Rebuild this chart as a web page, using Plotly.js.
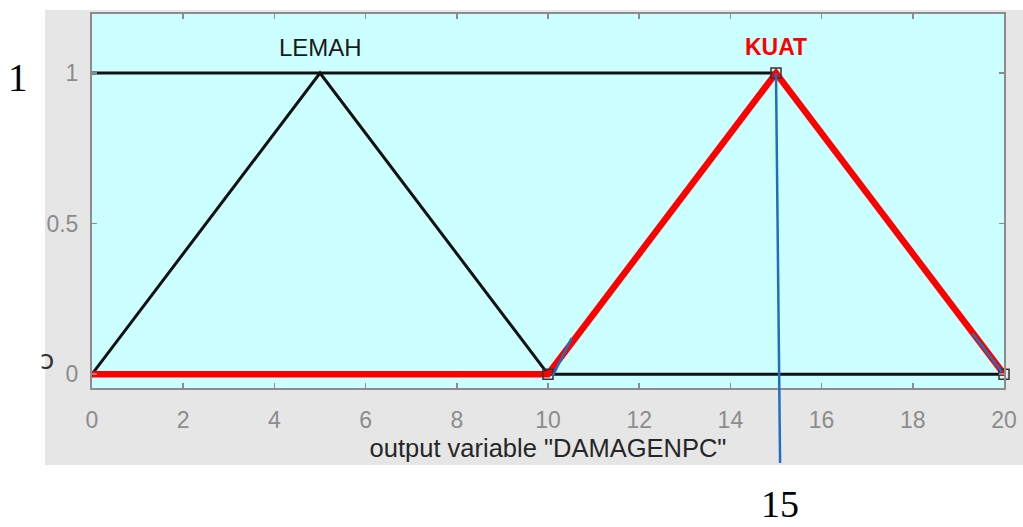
<!DOCTYPE html>
<html>
<head>
<meta charset="utf-8">
<script src="https://cdn.plot.ly/plotly-3.0.1.min.js"></script>
<style>
  html, body { margin: 0; padding: 0; background: #ffffff; }
  #chart { width: 1023px; height: 527px; }
</style>
</head>
<body>
<div id="chart"></div>
<script>
// Membership functions of output variable "DAMAGENPC"
const lemahX = [0, 5, 10];
const lemahY = [0, 1, 0];
const baseX = [10, 20];
const baseY = [0, 0];
const topX = [0, 15];
const topY = [1, 1];
const kuatX = [0, 10, 15, 20];
const kuatY = [0, 0, 1, 0];
const vertexX = [10, 15, 20];
const vertexY = [0, 1, 0];

// Crisp output and the short slope marks near the KUAT feet
const crispValue = 15;
const crispLevel = 1;
const crispTail = [15.09, -0.302];
const slopeMarkA = { x: [10.10, 10.52], y: [-0.007, 0.12] };
const slopeMarkB = { x: [19.31, 19.95], y: [0.135, 0.008] };

// Labels
const mfNames = ['LEMAH', 'KUAT'];
const mfPeaks = [5, 15];
const labelLevel = 1.086;
const xTicks = [0, 2, 4, 6, 8, 10, 12, 14, 16, 18, 20];
const yTicks = [0, 0.5, 1];
const yTickText = ['0', '0.5', '1'];

const gray = '#8c8c8c';
const blue = '#1f6fc0';
const sans = 'Liberation Sans, Arial, Helvetica, sans-serif';
const serif = 'Liberation Serif, DejaVu Serif, serif';

const traces = [
  { x: topX, y: topY, mode: 'lines', line: { color: '#111111', width: 3 }, hoverinfo: 'skip' },
  { x: lemahX, y: lemahY, mode: 'lines', line: { color: '#111111', width: 3 }, hoverinfo: 'skip' },
  { x: baseX, y: baseY, mode: 'lines', line: { color: '#111111', width: 3 }, hoverinfo: 'skip' },
  { x: kuatX, y: kuatY, mode: 'lines', line: { color: '#ff0000', width: 6.5 }, hoverinfo: 'skip' },
  { x: vertexX, y: vertexY, mode: 'markers', cliponaxis: false,
    marker: { symbol: 'square-open', size: 10, color: '#333333', line: { width: 1.5, color: '#333333' } },
    hoverinfo: 'skip' },
  { x: slopeMarkA.x, y: slopeMarkA.y, mode: 'lines', line: { color: blue, width: 2.5 }, hoverinfo: 'skip' },
  { x: slopeMarkB.x, y: slopeMarkB.y, mode: 'lines', line: { color: blue, width: 2.5 }, hoverinfo: 'skip' }
];

const axisCommon = {
  showgrid: false,
  zeroline: false,
  showline: true,
  linecolor: gray,
  linewidth: 2,
  mirror: 'ticks',
  ticks: 'inside',
  ticklen: 5,
  tickwidth: 1.5,
  tickcolor: gray,
  tickfont: { family: sans, size: 23, color: gray }
};

const layout = {
  width: 1023,
  height: 527,
  margin: { l: 92, r: 19, t: 14, b: 139 },
  paper_bgcolor: '#e6e6e6',
  plot_bgcolor: '#ccffff',
  showlegend: false,
  xaxis: Object.assign({}, axisCommon, {
    range: [0, 20],
    tickvals: xTicks,
    ticklabelstandoff: 10,
    title: { text: 'output variable "DAMAGENPC"', font: { family: sans, size: 25.5, color: '#262626' }, standoff: 8 }
  }),
  yaxis: Object.assign({}, axisCommon, {
    range: [-0.046, 1.196],
    tickvals: yTicks,
    ticktext: yTickText,
    ticklabelstandoff: 7
  }),
  // white margins around the grey figure panel
  shapes: [
    { type: 'rect', xref: 'paper', yref: 'paper', x0: -0.2, x1: -0.0515, y0: -0.5, y1: 1.2,
      fillcolor: '#ffffff', line: { width: 0 }, layer: 'above' },
    { type: 'rect', xref: 'paper', yref: 'paper', x0: -0.2, x1: 1.2, y0: -0.5, y1: -0.2059,
      fillcolor: '#ffffff', line: { width: 0 }, layer: 'above' },
    { type: 'rect', xref: 'paper', yref: 'paper', x0: -0.2, x1: 1.2, y0: 1.0107, y1: 1.2,
      fillcolor: '#ffffff', line: { width: 0 }, layer: 'above' }
  ],
  annotations: [
    { x: mfPeaks[0], y: labelLevel, xref: 'x', yref: 'y', text: mfNames[0], showarrow: false,
      xanchor: 'center', yanchor: 'middle',
      font: { family: sans, size: 24, color: '#1a1a1a' } },
    { x: mfPeaks[1], y: labelLevel, xref: 'x', yref: 'y', text: '<b>' + mfNames[1] + '</b>', showarrow: false,
      xanchor: 'center', yanchor: 'middle',
      font: { family: sans, size: 23, color: '#ff0000' } },
    // crisp output line
    { x: crispValue, y: crispLevel, xref: 'x', yref: 'y', axref: 'x', ayref: 'y',
      ax: crispTail[0], ay: crispTail[1], text: ' ', font: { size: 1 },
      showarrow: true, arrowhead: 0, arrowwidth: 2.5, arrowcolor: blue, standoff: 0, startstandoff: 0 },
    { x: crispTail[0], y: -0.309, xref: 'x', yref: 'paper', text: String(crispValue), showarrow: false,
      xanchor: 'center', yanchor: 'middle',
      font: { family: serif, size: 38, color: '#000000' } },
    { x: -0.081, y: crispLevel, xref: 'paper', yref: 'y', yshift: -4, text: String(crispLevel), showarrow: false,
      xanchor: 'center', yanchor: 'middle',
      font: { family: serif, size: 39, color: '#000000' } },
    { x: -0.049, y: 0.075, xref: 'paper', yref: 'paper', text: 'ɔ', showarrow: false,
      xanchor: 'center', yanchor: 'middle',
      font: { family: 'DejaVu Sans, sans-serif', size: 26, color: '#333333' } }
  ]
};

Plotly.newPlot('chart', traces, layout, { displayModeBar: false, staticPlot: true });
</script>
</body>
</html>
